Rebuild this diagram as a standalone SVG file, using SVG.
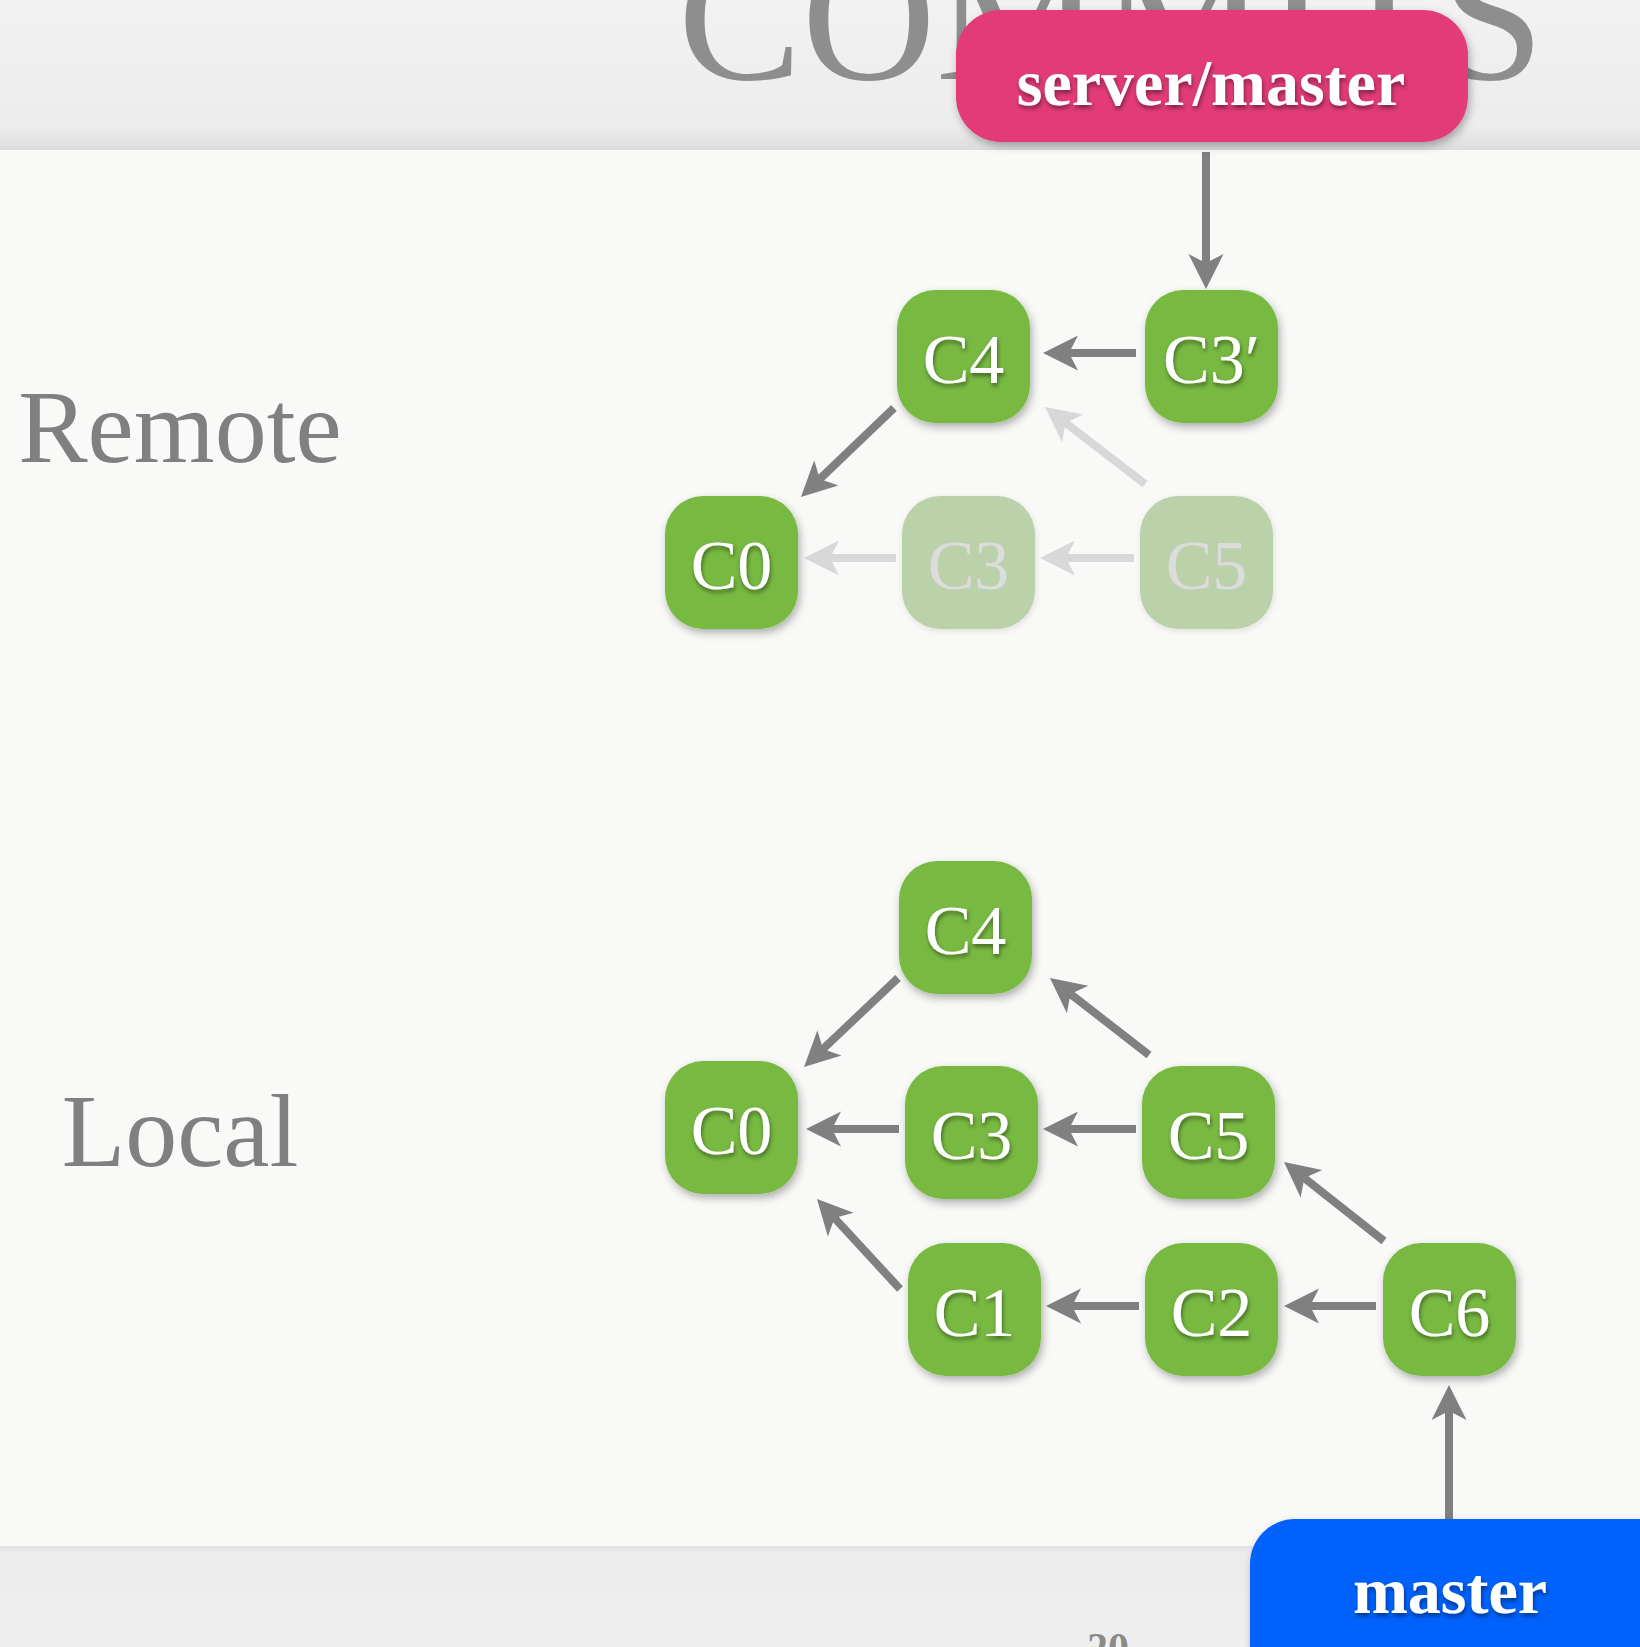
<svg xmlns="http://www.w3.org/2000/svg" width="1640" height="1647" viewBox="0 0 1640 1647">
<style>
.node rect{fill:#78b942;rx:38px;ry:38px;filter:url(#sh);}
.node.faded rect{fill:#bbd1a9;filter:url(#shf);}
.node text{font-family:"Liberation Serif",serif;font-size:70px;fill:#ffffff;text-anchor:middle;filter:url(#tsh);}
.node.faded text{fill:#dcdcdc;filter:none;}
.lbl{font-family:"Liberation Serif",serif;font-size:104px;fill:#808080;text-anchor:middle;}
.ref text{font-family:"Liberation Serif",serif;font-weight:bold;font-size:66px;fill:#ffffff;text-anchor:middle;filter:url(#tsh);}
.edge{stroke:#808080;stroke-width:8;fill:none;marker-end:url(#ah);}
.edge.faded{stroke:#d8d8d8;marker-end:url(#ahf);}
</style>
<defs>
<filter id="sh" x="-20%" y="-20%" width="140%" height="140%"><feDropShadow dx="2" dy="4" stdDeviation="4" flood-color="#000" flood-opacity="0.3"/></filter>
<filter id="shf" x="-20%" y="-20%" width="140%" height="140%"><feDropShadow dx="1" dy="2" stdDeviation="3" flood-color="#000" flood-opacity="0.1"/></filter>
<filter id="tsh" x="-20%" y="-20%" width="140%" height="140%"><feDropShadow dx="1" dy="3" stdDeviation="2" flood-color="#000" flood-opacity="0.45"/></filter>
<marker id="ah" viewBox="0 0 36 36" refX="10" refY="18" markerWidth="36" markerHeight="36" markerUnits="userSpaceOnUse" orient="auto"><path d="M36,18 L1,0.5 L10,18 L1,35.5 z" fill="#808080"/></marker>
<marker id="ahf" viewBox="0 0 36 36" refX="10" refY="18" markerWidth="36" markerHeight="36" markerUnits="userSpaceOnUse" orient="auto"><path d="M36,18 L1,0.5 L10,18 L1,35.5 z" fill="#d8d8d8"/></marker>
<linearGradient id="hdr" x1="0" y1="0" x2="0" y2="1"><stop offset="0" stop-color="#f2f2f2"/><stop offset="0.85" stop-color="#ececec"/><stop offset="1" stop-color="#dcdcdc"/></linearGradient>
<linearGradient id="ftr" x1="0" y1="0" x2="0" y2="1"><stop offset="0" stop-color="#e2e2e2"/><stop offset="0.08" stop-color="#ececec"/><stop offset="1" stop-color="#efefef"/></linearGradient>
</defs>
<rect x="0" y="0" width="1640" height="1647" fill="#f9f9f8"/>
<rect x="0" y="0" width="1640" height="150" fill="url(#hdr)"/>
<rect x="0" y="1546" width="1640" height="101" fill="url(#ftr)"/>
<text x="678" y="79" font-family="Liberation Serif,serif" font-size="185" fill="#8e8e8e" textLength="866" lengthAdjust="spacingAndGlyphs">COMMITS</text>
<text x="1108" y="1662" font-family="Liberation Serif,serif" font-size="42" font-weight="bold" fill="#8a8a8a" text-anchor="middle">20</text>
<text class="lbl" x="180" y="462">Remote</text>
<text class="lbl" x="180" y="1166">Local</text>
<g id="connectors">
<line class="edge" x1="1206" y1="152" x2="1206" y2="263"/>
<line class="edge" x1="1136" y1="353" x2="1069" y2="353"/>
<line class="edge" x1="894" y1="408" x2="819.8" y2="479"/>
<line class="edge faded" x1="1145" y1="484" x2="1065.6" y2="422.9"/>
<line class="edge faded" x1="896" y1="558" x2="830" y2="558"/>
<line class="edge faded" x1="1134" y1="558" x2="1066" y2="558"/>
<line class="edge" x1="898" y1="978" x2="822.9" y2="1049.1"/>
<line class="edge" x1="1149" y1="1055" x2="1070.5" y2="994"/>
<line class="edge" x1="899" y1="1129" x2="832" y2="1129"/>
<line class="edge" x1="1136" y1="1129" x2="1069" y2="1129"/>
<line class="edge" x1="1384" y1="1241" x2="1304.4" y2="1178.1"/>
<line class="edge" x1="900" y1="1289" x2="834.6" y2="1218.1"/>
<line class="edge" x1="1139" y1="1306" x2="1072" y2="1306"/>
<line class="edge" x1="1376" y1="1306" x2="1310" y2="1306"/>
<line class="edge" x1="1449" y1="1519" x2="1449" y2="1411"/>
</g>
<g id="server-master" class="ref"><rect x="956" y="10" width="512" height="132" rx="45" fill="#e23a78" filter="url(#sh)"/><text x="1211" y="105">server/master</text></g>
<g id="master" class="ref"><rect x="1250" y="1519" width="440" height="180" rx="45" fill="#0062fb" filter="url(#sh)"/><text x="1450" y="1613">master</text></g>
<g id="remote-C4" class="node"><rect x="897" y="290" width="133" height="133"/><text x="963.5" y="383">C4</text></g>
<g id="remote-C3p" class="node"><rect x="1145" y="290" width="133" height="133"/><text x="1211.5" y="383">C3′</text></g>
<g id="remote-C0" class="node"><rect x="665" y="496" width="133" height="133"/><text x="731.5" y="589">C0</text></g>
<g id="remote-C3" class="node faded"><rect x="902" y="496" width="133" height="133"/><text x="968.5" y="589">C3</text></g>
<g id="remote-C5" class="node faded"><rect x="1140" y="496" width="133" height="133"/><text x="1206.5" y="589">C5</text></g>
<g id="local-C4" class="node"><rect x="899" y="861" width="133" height="133"/><text x="965.5" y="954">C4</text></g>
<g id="local-C0" class="node"><rect x="665" y="1061" width="133" height="133"/><text x="731.5" y="1154">C0</text></g>
<g id="local-C3" class="node"><rect x="905" y="1066" width="133" height="133"/><text x="971.5" y="1159">C3</text></g>
<g id="local-C5" class="node"><rect x="1142" y="1066" width="133" height="133"/><text x="1208.5" y="1159">C5</text></g>
<g id="local-C1" class="node"><rect x="908" y="1243" width="133" height="133"/><text x="974.5" y="1336">C1</text></g>
<g id="local-C2" class="node"><rect x="1145" y="1243" width="133" height="133"/><text x="1211.5" y="1336">C2</text></g>
<g id="local-C6" class="node"><rect x="1383" y="1243" width="133" height="133"/><text x="1449.5" y="1336">C6</text></g>
</svg>
